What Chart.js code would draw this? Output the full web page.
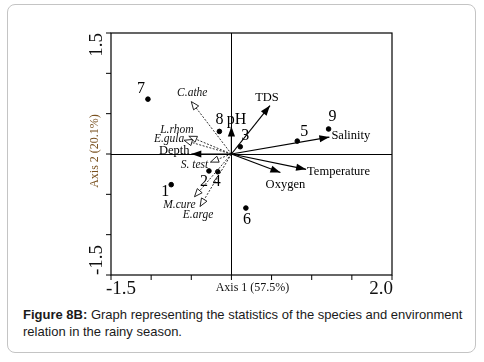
<!DOCTYPE html>
<html>
<head>
<meta charset="utf-8">
<script src="https://cdn.jsdelivr.net/npm/chart.js@4"></script>
<style>
  body { margin: 0; background: #fff; width: 484px; height: 362px; overflow: hidden; position: relative; }
  .frame { position: absolute; left: 7px; top: 4px; width: 467px; height: 347px; border: 1.5px solid #c4c4c4; border-radius: 8px; }
  .chartbox { position: absolute; left: 0; top: 0; width: 484px; height: 300px; }
  .caption { position: absolute; left: 23px; top: 306px; width: 450px; font: 13px "Liberation Sans", Arial, sans-serif; line-height: 17px; color: #1a1a1a; }
  .caption b { font-weight: bold; }
</style>
</head>
<body>
<div class="frame"></div>
<div class="chartbox"><canvas id="myChart"></canvas></div>
<div class="caption"><b>Figure 8B:</b> Graph representing the statistics of the species and environment relation in the rainy season.</div>
<script>
// sites (samples)
const siteNames = ["1", "2", "3", "4", "5", "6", "7", "8", "9"];
const siteX = [-0.75, -0.28, 0.11, -0.17, 0.82, 0.18, -1.04, -0.15, 1.21];
const siteY = [-0.38, -0.21, 0.09, -0.22, 0.16, -0.67, 0.68, 0.28, 0.31];

// environment vectors
const envNames = ["TDS", "pH", "Salinity", "Temperature", "Oxygen", "Depth"];
const envX = [0.48, 0.0, 1.22, 0.93, 0.61, -0.5];
const envY = [0.6, 0.34, 0.21, -0.19, -0.23, 0.0];

// species vectors
const spNames = ["C.athe", "L.rhom", "E.gula", "S. test", "M.cure", "E.arge"];
const spX = [-0.5, -0.53, -0.59, -0.26, -0.46, -0.39];
const spY = [0.65, 0.22, 0.17, -0.1, -0.53, -0.65];

// axes
const xMin = -1.5, xMax = 2.0, yMin = -1.5, yMax = 1.5, tickStep = 0.5;
const xTickLabels = ["-1.5", "2.0"];
const yTickLabels = ["1.5", "-1.5"];
const xTitle = "Axis 1 (57.5%)";
const yTitle = "Axis 2 (20.1%)";

// label offsets in px (style only)
const siteOff = [[-6, 7], [-5, 11], [5, -11], [-1, 10], [7, -9], [1, 12], [-7, -10], [0, -12], [4, -12]];
const envOff = [[-3, -8, "center"], [5, -7, "center"], [2, -1, "left"], [1, 2, "left"], [5, 12, "center"], [-17, -3, "center"]];
const spOff = [[1, -9], [-12, -6], [-15, -1], [-16, 3], [-15, 8], [-2, 9]];

const serif = '"Liberation Serif", "Times New Roman", serif';

const datasets = [];
envNames.forEach((n, i) => {
  datasets.push({
    label: n,
    data: [{ x: 0, y: 0 }, { x: envX[i], y: envY[i] }],
    showLine: true,
    borderColor: "#000",
    borderWidth: 1.2,
    pointRadius: 0,
  });
});
spNames.forEach((n, i) => {
  datasets.push({
    label: n,
    data: [{ x: 0, y: 0 }, { x: spX[i], y: spY[i] }],
    showLine: true,
    borderColor: "#333",
    borderWidth: 1,
    borderDash: [2, 1.5],
    pointRadius: 0,
  });
});
datasets.push({
  label: "sites",
  data: siteX.map((x, i) => ({ x: x, y: siteY[i] })),
  pointRadius: 2.3,
  backgroundColor: "#000",
  borderColor: "#000",
});

function arrowHead(ctx, x0, y0, x1, y1, len, half, hollow) {
  const a = Math.atan2(y1 - y0, x1 - x0);
  const bx = x1 - len * Math.cos(a), by = y1 - len * Math.sin(a);
  const px = -Math.sin(a) * half, py = Math.cos(a) * half;
  ctx.beginPath();
  ctx.moveTo(x1, y1);
  ctx.lineTo(bx + px, by + py);
  ctx.lineTo(bx - px, by - py);
  ctx.closePath();
  if (hollow) {
    ctx.fillStyle = "#fff";
    ctx.fill();
    ctx.strokeStyle = "#222";
    ctx.lineWidth = 1;
    ctx.stroke();
  } else {
    ctx.fillStyle = "#000";
    ctx.fill();
  }
}

const ordiPlugin = {
  id: "ordi",
  beforeDatasetsDraw(chart) {
    const { ctx, chartArea: a, scales } = chart;
    const sx = scales.x, sy = scales.y;
    ctx.save();
    ctx.strokeStyle = "#000";
    ctx.lineWidth = 1.2;
    ctx.strokeRect(a.left, a.top, a.right - a.left, a.bottom - a.top);
    // axes through origin
    const ox = Math.round(sx.getPixelForValue(0)) + 0.5;
    const oy = Math.round(sy.getPixelForValue(0)) + 0.5;
    ctx.lineWidth = 1;
    ctx.beginPath();
    ctx.moveTo(ox, a.top); ctx.lineTo(ox, a.bottom);
    ctx.moveTo(a.left, oy); ctx.lineTo(a.right, oy);
    ctx.stroke();
    // tick marks
    ctx.beginPath();
    for (let v = xMin; v <= xMax + 1e-9; v += tickStep) {
      const p = sx.getPixelForValue(v);
      ctx.moveTo(p, a.bottom); ctx.lineTo(p, a.bottom + 5);
    }
    for (let v = yMin; v <= yMax + 1e-9; v += tickStep) {
      const p = sy.getPixelForValue(v);
      ctx.moveTo(a.left, p); ctx.lineTo(a.left - 5, p);
    }
    ctx.stroke();
    // tick labels
    ctx.fillStyle = "#111";
    ctx.font = "19px " + serif;
    ctx.textBaseline = "middle";
    ctx.textAlign = "left";
    ctx.fillText(xTickLabels[0], sx.getPixelForValue(xMin) - 5, a.bottom + 14);
    ctx.textAlign = "right";
    ctx.fillText(xTickLabels[1], sx.getPixelForValue(xMax) + 1, a.bottom + 14);
    ctx.save();
    ctx.translate(a.left - 14, sy.getPixelForValue(yMax));
    ctx.rotate(-Math.PI / 2);
    ctx.textAlign = "right";
    ctx.fillText(yTickLabels[0], 0, 0);
    ctx.restore();
    ctx.save();
    ctx.translate(a.left - 14, sy.getPixelForValue(yMin));
    ctx.rotate(-Math.PI / 2);
    ctx.textAlign = "left";
    ctx.fillText(yTickLabels[1], 0, 0);
    ctx.restore();
    // axis titles
    ctx.font = "12px " + serif;
    ctx.textAlign = "center";
    ctx.fillStyle = "#111";
    ctx.fillText(xTitle, (a.left + a.right) / 2 + 1, a.bottom + 13);
    ctx.save();
    ctx.translate(a.left - 16, sy.getPixelForValue(0) - 3);
    ctx.rotate(-Math.PI / 2);
    ctx.fillStyle = "#7a5220";
    ctx.fillText(yTitle, 0, 0);
    ctx.restore();
    ctx.restore();
  },
  afterDatasetsDraw(chart) {
    const { ctx, scales } = chart;
    const sx = scales.x, sy = scales.y;
    const ox = sx.getPixelForValue(0), oy = sy.getPixelForValue(0);
    ctx.save();
    ctx.textBaseline = "middle";
    // species arrows (hollow heads) and labels
    spNames.forEach((n, i) => {
      const px = sx.getPixelForValue(spX[i]), py = sy.getPixelForValue(spY[i]);
      arrowHead(ctx, ox, oy, px, py, 8, 3.2, true);
    });
    ctx.font = "italic 11.5px " + serif;
    ctx.fillStyle = "#111";
    ctx.textAlign = "center";
    spNames.forEach((n, i) => {
      const px = sx.getPixelForValue(spX[i]), py = sy.getPixelForValue(spY[i]);
      ctx.fillText(n, px + spOff[i][0], py + spOff[i][1]);
    });
    // environment arrows and labels
    envNames.forEach((n, i) => {
      const px = sx.getPixelForValue(envX[i]), py = sy.getPixelForValue(envY[i]);
      arrowHead(ctx, ox, oy, px, py, 10, 3.6, false);
    });
    envNames.forEach((n, i) => {
      const px = sx.getPixelForValue(envX[i]), py = sy.getPixelForValue(envY[i]);
      ctx.font = (n === "pH" ? "16px " : "12.5px ") + serif;
      ctx.textAlign = envOff[i][2];
      ctx.fillStyle = "#000";
      ctx.fillText(n, px + envOff[i][0], py + envOff[i][1]);
    });
    // site labels
    ctx.font = "16px " + serif;
    ctx.textAlign = "center";
    siteNames.forEach((n, i) => {
      const px = sx.getPixelForValue(siteX[i]), py = sy.getPixelForValue(siteY[i]);
      ctx.fillText(n, px + siteOff[i][0], py + siteOff[i][1]);
    });
    ctx.restore();
  },
};

const config = {
  type: "scatter",
  data: { datasets: datasets },
  options: {
    responsive: true,
    maintainAspectRatio: false,
    animation: false,
    layout: { padding: { left: 111, top: 33, right: 92, bottom: 25 } },
    plugins: { legend: { display: false }, tooltip: { enabled: false } },
    scales: {
      x: { type: "linear", min: xMin, max: xMax, display: false },
      y: { type: "linear", min: yMin, max: yMax, display: false },
    },
  },
  plugins: [ordiPlugin],
};

const myChart = new Chart(document.getElementById("myChart"), config);
</script>
</body>
</html>
